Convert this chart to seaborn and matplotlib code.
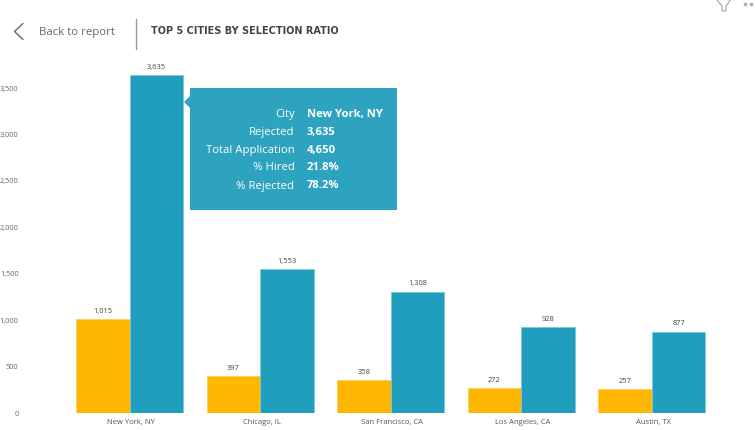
import matplotlib
matplotlib.use("Agg")
import matplotlib.pyplot as plt
from matplotlib.patches import Rectangle, Polygon
from matplotlib.transforms import ScaledTranslation
import pandas as pd
import seaborn as sns

cities = ["New York, NY", "Chicago, IL", "San Francisco, CA", "Los Angeles, CA", "Austin, TX"]
hired = [1015, 397, 358, 272, 257]
rejected = [3635, 1553, 1308, 928, 877]
y_ticks = [0, 500, 1000, 1500, 2000, 2500, 3000, 3500]
tip_labels = ["City", "Rejected", "Total Application", "% Hired", "% Rejected"]
tip_values = ["New York, NY", "3,635", "4,650", "21.8%", "78.2%"]

W, H = 755, 430
sns.set_theme(style="white")
plt.rcParams["font.family"] = ["Open Sans", "DejaVu Sans"]

df = pd.DataFrame({
    "City": cities * 2,
    "Status": ["Hired"] * len(cities) + ["Rejected"] * len(cities),
    "Count": hired + rejected,
})

fig = plt.figure(figsize=(W / 100, H / 100), dpi=100, facecolor="white")
L, R, T, B = 64.5, 717, 60, 413
ax = fig.add_axes([L / W, 1 - B / H, (R - L) / W, (B - T) / H])
sns.barplot(data=df, x="City", y="Count", hue="Status", order=cities,
            palette=["#FFB600", "#1F9EBD"], width=0.822, gap=0, dodge=True,
            legend=False, ax=ax, saturation=1, errorbar=None)
ax.set_ylim(0, (B - T) / (325 / 3500))
ax.set_xlim(-0.5, len(cities) - 0.5)
edges = ["#FFCF5C", "#7FC7D9"]
for cont, ec in zip(ax.containers, edges):
    for p in cont:
        p.set_edgecolor(ec)
        p.set_linewidth(0.6)
    ax.bar_label(cont, labels=[f"{v.get_height():,.0f}" for v in cont], padding=3,
                 fontsize=5.4, color="#444444")
ax.set_xlabel("")
ax.set_ylabel("")
ax.set_yticks(y_ticks)
ax.set_yticklabels([f"{v:,}" for v in y_ticks])
ax.tick_params(axis="y", length=0, pad=33, labelsize=5.3, labelcolor="#666666")
ax.tick_params(axis="x", length=0, pad=4.2, labelsize=5.5, labelcolor="#555555")
shift = ScaledTranslation(1.5 / 100, 0, fig.dpi_scale_trans)
for lab in ax.get_xticklabels():
    lab.set_transform(lab.get_transform() + shift)
sns.despine(ax=ax, left=True, bottom=True, top=True, right=True)

ov = fig.add_axes([0, 0, 1, 1], zorder=5)
ov.set_xlim(0, W)
ov.set_ylim(H, 0)
ov.axis("off")
ov.patch.set_alpha(0)

# header
ov.plot([23, 14.5, 23], [23.5, 31.5, 39.5], color="#666666", lw=1.0)
ov.text(39, 32, "Back to report", fontsize=8.2, color="#666666", va="center", ha="left")
ov.plot([135.5, 135.5], [19, 49], color="#999999", lw=1)
ov.text(151, 31.5, "TOP 5 CITIES BY SELECTION RATIO", fontsize=7.0, fontweight="bold",
        family=["DejaVu Sans"], color="#444444", va="center", ha="left")

# tooltip
tip = "#2DA3BF"
ov.add_patch(Rectangle((190, 88), 207, 122, facecolor=tip, edgecolor="none"))
ov.add_patch(Polygon([(190, 96), (184, 102), (190, 108)], closed=True, facecolor=tip, edgecolor="none"))
rows = [114, 132, 150, 168, 186]
for y, a, b in zip(rows, tip_labels, tip_values):
    ov.text(294.5, y, a, color="white", fontsize=8.2, ha="right", va="center")
    ov.text(307, y, b, color="white", fontsize=8.1, fontweight="bold", ha="left", va="center")

# corner icons
ov.plot([716, 722, 722, 726, 726, 731], [-1, 6, 11, 11, 6, -1], color="#9FB0B8", lw=0.9)
ov.plot([745, 750.5], [4, 4], ls="none", marker="o", ms=1.6, color="#9FB0B8")

fig.savefig("out.png", dpi=100, facecolor="white")
